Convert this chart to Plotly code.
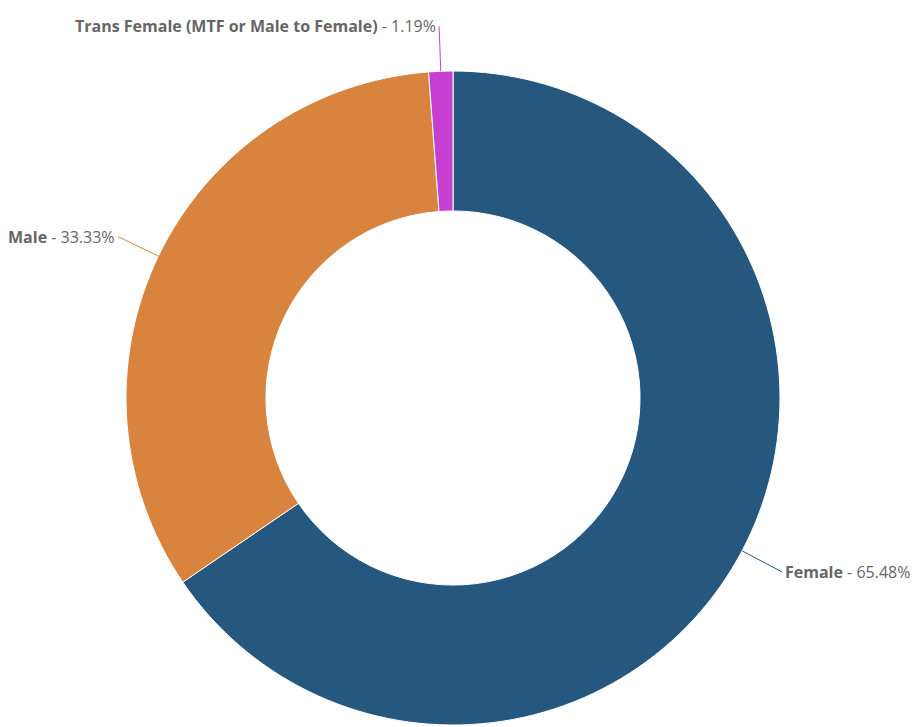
import math
import plotly.graph_objects as go

# Gender breakdown
labels = ["Female", "Male", "Trans Female (MTF or Male to Female)"]
values = [65.48, 33.33, 1.19]
colors = ["#26587f", "#d8843f", "#c63fd0"]

W, H = 914, 727
CX, CY, R = 453, 398, 327          # donut centre and outer radius in pixels
HOLE = 0.572
LABEL_GAP = 45                     # radial distance from rim to label anchor
BEND_GAP = 29                      # radial distance of the connector's bend


def px(x, y):
    """Pixel position -> paper coordinates."""
    return x / W, 1 - y / H


fig = go.Figure(
    go.Pie(
        labels=labels,
        values=values,
        marker=dict(colors=colors, line=dict(color="white", width=1)),
        hole=HOLE,
        sort=False,
        direction="clockwise",
        rotation=0,
        textinfo="none",
        hoverinfo="label+percent",
        domain=dict(x=[(CX - R) / W, (CX + R) / W],
                    y=[1 - (CY + R) / H, 1 - (CY - R) / H]),
        showlegend=False,
    )
)

# outside labels with curved leader lines, placed at each slice's mid-angle
total = sum(values)
cum = 0.0
shapes, annotations = [], []
for lab, val, col in zip(labels, values, colors):
    mid = (cum + val / 2) / total * 2 * math.pi
    cum += val
    dx, dy = math.sin(mid), -math.cos(mid)
    p0 = (CX + R * dx, CY + R * dy)
    c = (CX + (R + BEND_GAP) * dx, CY + (R + BEND_GAP) * dy)
    right = dx >= 0
    e = (CX + (R + LABEL_GAP) * dx, CY + (R + LABEL_GAP) * dy)
    a, b, cc = px(*p0), px(*c), px(*e)
    shapes.append(dict(
        type="path", xref="paper", yref="paper",
        path=f"M {a[0]},{a[1]} Q {b[0]},{b[1]} {cc[0]},{cc[1]}",
        line=dict(color=col, width=1),
    ))
    tx = e[0] + (1 if right else -1)
    t = px(tx, e[1])
    annotations.append(dict(
        x=t[0], y=t[1], xref="paper", yref="paper",
        text=f"<b>{lab}</b> - {val:.2f}%",
        showarrow=False,
        xanchor="left" if right else "right",
        yanchor="middle",
        font=dict(family="Open Sans", size=16, color="#666666"),
    ))

fig.update_layout(
    width=W, height=H,
    margin=dict(l=0, r=0, t=0, b=0),
    paper_bgcolor="white",
    plot_bgcolor="white",
    shapes=shapes,
    annotations=annotations,
)

fig.write_html("out.html")
